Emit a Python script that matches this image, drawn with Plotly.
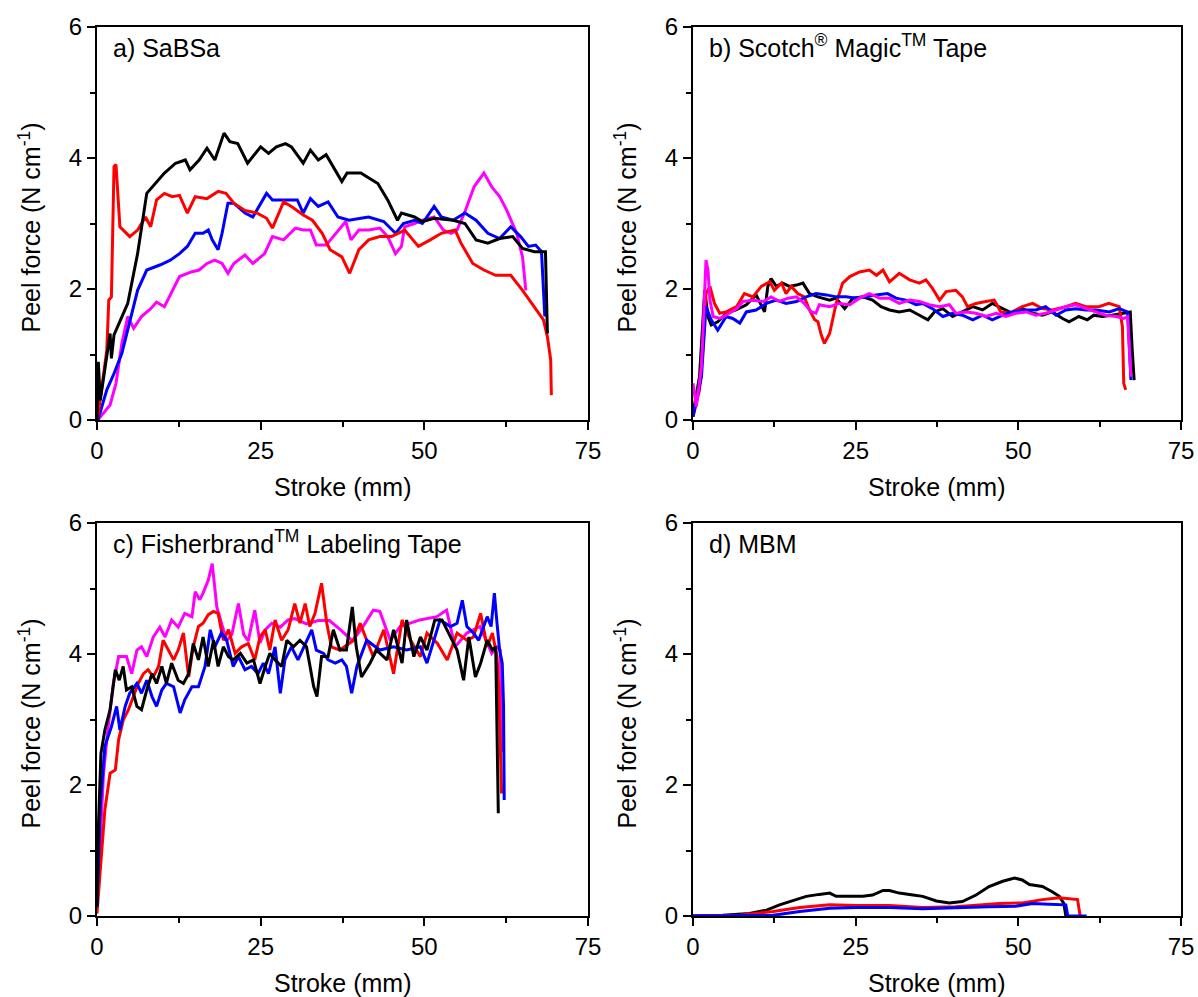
import plotly.graph_objects as go

# ---------------- Panel a) SaBSa ----------------
a_black_x = [0, 0.2, 0.5, 2.0, 2.2, 2.6, 4.7, 6.2, 7.6, 8.5, 10.3, 12.0, 13.5, 14.2, 15.6, 16.8, 18.0, 19.4, 20.3, 21.5, 23.0, 25.0, 26.2, 27.4, 28.8, 29.7, 31.5, 32.6, 33.8, 35.0, 37.4, 38.2, 40.3, 42.9, 44.4, 45.9, 46.5, 48.5, 49.7, 51.5, 54.4, 56.2, 57.9, 59.7, 61.5, 63.5, 65.0, 66.8, 68.5, 68.8]
a_black_y = [0.0, 0.89, 0.3, 1.32, 0.94, 1.3, 1.78, 2.54, 3.46, 3.56, 3.77, 3.92, 3.97, 3.82, 3.97, 4.15, 3.97, 4.38, 4.25, 4.22, 3.92, 4.17, 4.07, 4.17, 4.22, 4.17, 3.92, 4.12, 3.97, 4.05, 3.64, 3.77, 3.77, 3.61, 3.36, 3.05, 3.16, 3.1, 3.03, 3.08, 3.05, 3.0, 2.75, 2.7, 2.77, 2.8, 2.62, 2.57, 2.57, 1.32]

a_red_x = [0, 0.2, 1.5, 1.8, 2.2, 2.6, 2.9, 3.5, 5.0, 6.2, 7.4, 8.2, 9.1, 10.3, 11.5, 12.6, 13.8, 15.0, 16.8, 18.5, 19.7, 20.9, 22.6, 24.4, 25.9, 26.8, 28.5, 29.7, 31.5, 32.9, 34.4, 35.6, 37.4, 38.6, 40.0, 41.5, 43.2, 45.0, 47.0, 49.1, 50.9, 52.6, 54.7, 55.6, 57.4, 59.1, 60.9, 63.2, 65.0, 66.8, 68.2, 68.8, 69.3, 69.4]
a_red_y = [0.0, 0.1, 1.07, 1.83, 1.88, 3.87, 3.9, 2.95, 2.8, 2.9, 3.1, 2.95, 3.36, 3.46, 3.41, 3.43, 3.16, 3.41, 3.38, 3.49, 3.46, 3.31, 3.2, 3.16, 3.08, 2.93, 3.33, 3.26, 3.13, 3.05, 2.85, 2.6, 2.49, 2.24, 2.6, 2.75, 2.8, 2.8, 2.9, 2.65, 2.75, 2.85, 2.9, 2.7, 2.39, 2.29, 2.21, 2.21, 1.98, 1.73, 1.53, 1.27, 0.92, 0.38]

a_blue_x = [0, 0.2, 1.5, 2.6, 3.8, 5.0, 6.2, 7.6, 9.7, 11.2, 12.6, 13.8, 15.0, 16.2, 17.0, 17.6, 18.5, 19.1, 20.0, 20.9, 22.6, 23.8, 25.0, 25.9, 26.8, 28.5, 30.6, 31.5, 32.6, 33.8, 35.3, 36.8, 38.5, 40.3, 41.5, 43.8, 45.6, 46.8, 48.5, 49.7, 51.5, 52.6, 54.4, 56.2, 57.9, 59.7, 61.5, 63.2, 64.7, 65.9, 67.0, 67.9, 68.4]
a_blue_y = [0.0, 0.02, 0.46, 0.71, 1.02, 1.48, 1.98, 2.29, 2.37, 2.44, 2.54, 2.65, 2.85, 2.85, 2.9, 2.75, 2.6, 2.85, 3.31, 3.31, 3.16, 3.1, 3.31, 3.46, 3.36, 3.36, 3.36, 3.16, 3.38, 3.26, 3.33, 3.1, 3.05, 3.08, 3.1, 3.03, 2.85, 3.0, 3.05, 3.0, 3.26, 3.1, 3.05, 3.16, 3.05, 2.85, 2.77, 2.95, 2.8, 2.65, 2.67, 2.57, 1.58]

a_mag_x = [0, 0.2, 2.0, 2.9, 3.8, 4.7, 5.6, 6.8, 8.2, 9.1, 10.3, 11.5, 12.6, 14.4, 15.6, 16.8, 18.0, 19.1, 20.0, 20.9, 22.6, 23.8, 25.6, 26.8, 28.5, 30.3, 31.5, 32.6, 33.5, 35.0, 36.2, 38.0, 38.8, 40.0, 41.5, 43.2, 44.4, 45.6, 46.5, 47.0, 48.5, 49.7, 51.5, 52.9, 54.1, 55.0, 56.2, 57.6, 59.1, 60.3, 61.5, 62.6, 64.1, 65.0, 65.5]
a_mag_y = [0.0, 0.01, 0.23, 0.56, 1.17, 1.58, 1.4, 1.58, 1.7, 1.8, 1.73, 1.98, 2.19, 2.26, 2.29, 2.39, 2.44, 2.39, 2.24, 2.39, 2.52, 2.39, 2.54, 2.8, 2.75, 2.93, 2.9, 2.9, 2.67, 2.67, 2.82, 3.03, 2.75, 2.9, 2.9, 2.93, 2.8, 2.54, 2.65, 2.95, 3.0, 3.05, 3.1, 2.9, 2.85, 2.9, 3.18, 3.56, 3.77, 3.56, 3.41, 3.2, 2.85, 2.49, 1.98]

# ---------------- Panel b) Scotch Magic Tape ----------------
b_black_x = [0, 1.0, 1.8, 2.3, 2.8, 3.8, 5.1, 6.6, 8.2, 9.7, 11.0, 11.5, 12.0, 12.8, 13.8, 14.8, 15.9, 16.9, 17.9, 19.2, 21.0, 22.0, 23.3, 24.6, 26.1, 27.6, 28.9, 30.2, 31.7, 33.3, 34.8, 36.1, 37.1, 38.4, 39.9, 41.4, 43.0, 44.5, 46.0, 47.6, 49.1, 50.6, 52.2, 53.7, 55.2, 56.8, 57.8, 59.3, 60.6, 61.6, 62.9, 64.4, 66.0, 67.2, 67.5, 67.8]
b_black_y = [0.1, 0.66, 1.98, 1.58, 1.45, 1.5, 1.63, 1.68, 1.76, 1.91, 1.65, 2.04, 2.16, 2.04, 2.09, 2.04, 2.06, 2.09, 1.93, 1.88, 1.83, 1.86, 1.7, 1.86, 1.88, 1.83, 1.73, 1.68, 1.65, 1.68, 1.6, 1.53, 1.65, 1.7, 1.58, 1.65, 1.73, 1.68, 1.78, 1.7, 1.63, 1.7, 1.63, 1.6, 1.65, 1.55, 1.5, 1.58, 1.53, 1.6, 1.58, 1.6, 1.63, 1.65, 1.07, 0.61]

b_red_x = [0, 1.0, 1.5, 2.0, 2.6, 3.3, 4.1, 5.1, 6.7, 7.9, 9.2, 10.5, 11.8, 12.5, 13.6, 14.3, 15.1, 16.1, 17.1, 17.9, 18.7, 19.2, 19.7, 20.2, 21.0, 22.0, 23.0, 24.1, 25.6, 27.1, 28.2, 29.2, 30.2, 31.7, 33.3, 34.8, 35.8, 36.8, 37.9, 38.9, 40.4, 41.4, 42.2, 43.5, 45.0, 46.3, 47.3, 48.6, 50.6, 52.2, 53.7, 55.2, 57.3, 58.8, 60.4, 62.4, 63.9, 65.5, 66.0, 66.2, 66.5]
b_red_y = [0.05, 0.46, 1.07, 1.93, 2.04, 1.78, 1.63, 1.65, 1.73, 1.93, 1.88, 2.04, 2.11, 1.98, 2.09, 1.93, 2.04, 1.93, 1.88, 1.68, 1.53, 1.5, 1.3, 1.17, 1.32, 1.78, 2.09, 2.19, 2.26, 2.29, 2.21, 2.29, 2.11, 2.24, 2.14, 2.09, 2.14, 2.01, 1.83, 1.96, 1.98, 1.88, 1.73, 1.78, 1.81, 1.83, 1.65, 1.63, 1.73, 1.78, 1.7, 1.68, 1.73, 1.78, 1.73, 1.73, 1.78, 1.73, 1.42, 0.56, 0.46]

b_blue_x = [0, 1.3, 2.0, 2.8, 3.8, 5.1, 6.1, 7.2, 8.2, 9.7, 11.3, 12.8, 14.3, 15.9, 17.4, 18.9, 20.5, 22.0, 23.5, 25.1, 26.6, 28.1, 29.9, 31.2, 32.7, 34.3, 35.3, 36.8, 38.4, 39.9, 41.4, 43.0, 44.5, 46.0, 47.6, 49.1, 50.6, 52.7, 54.2, 55.8, 57.3, 58.8, 60.4, 61.9, 64.0, 65.5, 66.8, 67.3]
b_blue_y = [0.05, 0.66, 1.73, 1.53, 1.37, 1.58, 1.55, 1.48, 1.65, 1.68, 1.78, 1.83, 1.78, 1.81, 1.88, 1.93, 1.91, 1.88, 1.88, 1.86, 1.88, 1.91, 1.93, 1.86, 1.83, 1.76, 1.78, 1.7, 1.58, 1.63, 1.6, 1.53, 1.6, 1.53, 1.6, 1.65, 1.68, 1.68, 1.73, 1.6, 1.68, 1.7, 1.68, 1.68, 1.65, 1.7, 1.65, 0.61]

b_mag_x = [0, 0.5, 1.3, 2.0, 2.3, 2.6, 3.1, 4.1, 5.1, 6.7, 7.7, 9.2, 10.8, 12.0, 13.3, 14.6, 15.9, 17.1, 18.2, 18.9, 19.4, 21.0, 22.5, 24.1, 25.6, 27.1, 28.7, 30.2, 31.7, 33.3, 34.8, 36.3, 37.9, 39.4, 40.4, 42.0, 43.5, 45.0, 46.6, 48.1, 49.6, 51.2, 52.7, 54.2, 55.8, 57.3, 58.8, 60.4, 61.9, 63.4, 65.0, 66.2, 66.8, 67.3]
b_mag_y = [0.56, 0.2, 0.81, 2.44, 2.29, 1.83, 1.58, 1.55, 1.6, 1.7, 1.81, 1.83, 1.81, 1.88, 1.81, 1.86, 1.88, 1.78, 1.65, 1.63, 1.76, 1.73, 1.78, 1.76, 1.86, 1.93, 1.86, 1.86, 1.78, 1.83, 1.81, 1.76, 1.73, 1.76, 1.63, 1.65, 1.63, 1.58, 1.63, 1.58, 1.63, 1.65, 1.6, 1.63, 1.68, 1.73, 1.76, 1.7, 1.65, 1.6, 1.58, 1.55, 1.58, 0.66]

# ---------------- Panel c) Fisherbrand Labeling Tape ----------------
c_black_x = [0, 0.2, 0.6, 1.2, 2.0, 2.8, 3.4, 4.0, 4.5, 5.3, 6.1, 6.8, 7.6, 8.4, 9.1, 9.9, 10.6, 11.4, 12.4, 13.2, 14.0, 14.7, 15.5, 16.2, 17.0, 17.8, 18.5, 19.3, 20.1, 20.8, 21.9, 22.9, 23.9, 24.9, 25.7, 26.4, 27.2, 28.2, 29.0, 30.0, 31.0, 32.0, 33.1, 33.6, 34.3, 35.3, 36.1, 37.1, 38.1, 39.0, 39.6, 40.4, 41.7, 42.7, 44.3, 45.3, 46.6, 47.3, 48.4, 49.4, 50.4, 51.6, 52.7, 54.0, 55.0, 56.0, 56.8, 57.8, 58.6, 59.6, 60.4, 60.9, 61.1, 61.3]
c_black_y = [0.14, 1.31, 2.48, 2.84, 3.15, 3.76, 3.6, 3.81, 3.45, 3.5, 3.2, 3.15, 3.45, 3.7, 3.55, 3.81, 3.55, 3.86, 3.6, 3.55, 3.7, 4.16, 3.91, 4.26, 3.81, 4.21, 3.81, 4.11, 3.96, 3.91, 4.01, 3.86, 3.91, 3.55, 3.81, 4.01, 3.91, 3.81, 4.21, 4.11, 4.21, 4.11, 3.5, 3.35, 3.96, 3.96, 4.37, 4.06, 4.06, 4.72, 4.11, 3.65, 3.86, 4.06, 3.91, 4.37, 3.86, 4.52, 3.96, 4.26, 4.06, 4.52, 4.52, 4.26, 4.06, 3.6, 4.26, 3.65, 3.86, 4.21, 4.06, 4.11, 3.09, 1.57]

c_red_x = [0, 0.5, 1.2, 2.0, 2.8, 3.3, 4.0, 4.8, 5.5, 6.3, 7.1, 7.8, 8.6, 9.4, 10.1, 10.9, 11.7, 12.4, 13.2, 14.0, 14.7, 15.5, 16.2, 17.0, 17.8, 18.5, 19.3, 20.1, 21.1, 22.1, 23.1, 24.1, 24.9, 25.7, 26.4, 27.2, 28.2, 29.2, 30.2, 31.0, 31.8, 32.5, 33.3, 34.3, 35.1, 35.8, 37.1, 39.2, 40.2, 41.2, 42.2, 43.8, 45.3, 46.6, 47.9, 49.4, 50.4, 52.0, 53.5, 55.0, 56.5, 57.5, 58.6, 59.6, 60.4, 61.1, 61.4, 61.6, 61.8]
c_red_y = [0.04, 0.65, 1.62, 2.18, 2.23, 2.69, 2.99, 3.15, 3.35, 3.55, 3.7, 3.76, 3.65, 3.81, 4.21, 4.06, 3.91, 4.06, 4.32, 3.65, 4.11, 4.42, 4.47, 4.6, 4.65, 4.62, 4.21, 4.37, 4.01, 4.11, 4.16, 3.91, 4.26, 4.37, 4.06, 4.52, 4.21, 4.37, 4.77, 4.47, 4.77, 4.42, 4.62, 5.08, 4.47, 4.11, 4.06, 4.21, 4.47, 4.21, 3.96, 4.37, 3.7, 4.52, 4.21, 3.96, 4.32, 4.16, 3.91, 4.32, 4.21, 4.26, 4.62, 4.11, 4.32, 3.96, 3.4, 2.59, 1.87]

c_blue_x = [0, 0.5, 1.2, 2.2, 3.0, 3.5, 4.3, 5.0, 6.1, 6.8, 7.6, 8.4, 9.1, 9.9, 10.6, 11.7, 12.7, 13.4, 14.5, 15.5, 16.5, 17.3, 18.0, 19.0, 19.8, 20.8, 21.6, 22.6, 23.6, 24.6, 25.4, 26.2, 27.2, 28.0, 28.7, 29.7, 30.7, 31.8, 32.8, 33.5, 34.6, 35.3, 36.4, 37.4, 38.1, 38.9, 39.7, 41.2, 43.2, 45.3, 47.3, 49.4, 50.4, 52.4, 54.0, 55.0, 55.8, 56.5, 57.5, 58.3, 59.6, 60.2, 60.7, 61.1, 61.5, 61.9, 62.1, 62.2]
c_blue_y = [0.14, 1.67, 2.59, 2.89, 3.2, 2.84, 3.2, 3.4, 3.55, 3.4, 3.6, 3.35, 3.2, 3.45, 3.55, 3.5, 3.1, 3.3, 3.5, 3.5, 3.81, 4.37, 4.11, 4.32, 4.21, 3.81, 3.96, 3.76, 3.81, 3.7, 3.86, 3.7, 4.11, 3.4, 3.91, 4.11, 3.91, 4.16, 4.37, 4.06, 4.01, 3.91, 3.86, 3.91, 3.81, 3.4, 3.81, 4.21, 4.06, 4.11, 4.06, 4.11, 3.86, 4.52, 4.42, 4.47, 4.82, 4.42, 4.32, 4.21, 4.57, 4.42, 4.93, 4.47, 4.06, 3.86, 3.2, 1.77]

c_mag_x = [0, 0.5, 1.0, 1.7, 2.5, 3.3, 4.5, 5.3, 6.1, 6.8, 7.6, 8.6, 9.6, 10.4, 11.4, 12.4, 13.4, 14.5, 15.0, 15.7, 16.2, 17.0, 17.6, 18.3, 19.0, 19.8, 20.6, 21.6, 22.4, 23.1, 24.1, 24.9, 25.7, 26.7, 28.0, 29.2, 30.2, 32.0, 33.8, 35.5, 37.3, 39.0, 40.5, 42.2, 43.2, 44.8, 46.3, 49.3, 51.9, 53.4, 54.7, 56.5, 58.5, 60.3, 61.1, 61.6, 61.9]
c_mag_y = [0.14, 1.16, 2.18, 2.89, 3.55, 3.96, 3.96, 3.7, 4.06, 4.11, 3.96, 4.26, 4.41, 4.26, 4.52, 4.41, 4.62, 4.57, 4.95, 4.83, 4.93, 5.13, 5.38, 4.72, 4.47, 4.2, 4.3, 4.77, 4.3, 4.2, 4.67, 4.17, 4.37, 4.47, 4.41, 4.52, 4.54, 4.46, 4.51, 4.51, 4.36, 4.2, 4.4, 4.67, 4.65, 4.21, 4.42, 4.52, 4.57, 4.67, 4.11, 4.32, 4.42, 4.01, 4.11, 4.06, 2.5]

# ---------------- Panel d) MBM ----------------
d_black_x = [0, 4.6, 8.7, 11.3, 13.3, 15.4, 17.4, 19.4, 21.0, 22.0, 24.1, 26.1, 27.6, 29.2, 30.2, 31.7, 33.8, 35.3, 37.4, 39.4, 41.4, 43.5, 45.5, 47.6, 49.4, 50.6, 51.7, 53.7, 55.2, 56.3, 57.0, 57.3]
d_black_y = [0.0, 0.01, 0.04, 0.09, 0.17, 0.24, 0.3, 0.33, 0.35, 0.3, 0.3, 0.3, 0.32, 0.39, 0.39, 0.35, 0.32, 0.3, 0.23, 0.2, 0.22, 0.32, 0.45, 0.53, 0.58, 0.55, 0.48, 0.45, 0.37, 0.3, 0.19, 0.0]

d_red_x = [0, 7.2, 12.3, 16.4, 21.0, 25.1, 30.2, 35.3, 40.4, 47.1, 50.6, 53.7, 56.3, 59.1, 59.5]
d_red_y = [0.0, 0.01, 0.07, 0.13, 0.17, 0.16, 0.16, 0.13, 0.14, 0.19, 0.2, 0.25, 0.28, 0.25, 0.0]

d_blue_x = [0, 12.3, 16.4, 21.0, 25.1, 30.2, 35.3, 40.4, 45.5, 49.6, 52.2, 54.7, 57.3, 57.6, 60.5]
d_blue_y = [0.0, 0.01, 0.07, 0.12, 0.13, 0.13, 0.11, 0.12, 0.14, 0.15, 0.19, 0.18, 0.17, 0.0, 0.0]

x_ticks = [0, 25, 50, 75]
y_ticks = [0, 2, 4, 6]
y_title = "Peel force (N cm<sup>-1</sup>)"
x_title = "Stroke (mm)"
panel_labels = ["a) SaBSa",
                "b) Scotch<sup>®</sup> Magic<sup>TM</sup> Tape",
                "c) Fisherbrand<sup>TM</sup> Labeling Tape",
                "d) MBM"]

BLACK, RED, BLUE, MAG = "#000000", "#FF0000", "#0000FF", "#FF00FF"
FONT = "Liberation Sans, Arial, sans-serif"

panels = [
    [(a_mag_x, a_mag_y, MAG), (a_blue_x, a_blue_y, BLUE), (a_red_x, a_red_y, RED), (a_black_x, a_black_y, BLACK)],
    [(b_black_x, b_black_y, BLACK), (b_red_x, b_red_y, RED), (b_blue_x, b_blue_y, BLUE), (b_mag_x, b_mag_y, MAG)],
    [(c_mag_x, c_mag_y, MAG), (c_red_x, c_red_y, RED), (c_blue_x, c_blue_y, BLUE), (c_black_x, c_black_y, BLACK)],
    [(d_black_x, d_black_y, BLACK), (d_red_x, d_red_y, RED), (d_blue_x, d_blue_y, BLUE)],
]

W, H = 1198, 997
xpix = [(97, 588), (693, 1181)]
ypix = [(27, 420), (523, 916)]

fig = go.Figure()
layout = dict(width=W, height=H, margin=dict(l=0, r=0, t=0, b=0, autoexpand=False),
              paper_bgcolor="white", plot_bgcolor="white", showlegend=False,
              font=dict(family=FONT, color="black", size=24))
annotations = []
for i, traces in enumerate(panels):
    row, col = divmod(i, 2)
    ax = "" if i == 0 else str(i + 1)
    x0, x1 = xpix[col]
    y0, y1 = ypix[row]
    for (xs, ys, color) in traces:
        fig.add_trace(go.Scatter(x=xs, y=ys, mode="lines",
                                 line=dict(color=color, width=3),
                                 xaxis="x" + ax, yaxis="y" + ax))
    common = dict(showline=True, linecolor="black", linewidth=2, mirror=True,
                  ticks="outside", ticklen=8, tickwidth=1.5, tickcolor="black",
                  showgrid=False, zeroline=False, automargin=False,
                  tickfont=dict(size=24, family=FONT))
    layout["xaxis" + ax] = dict(common, domain=[x0 / W, x1 / W], range=[0, 75],
                                tickvals=x_ticks, anchor="y" + ax,
                                minor=dict(dtick=12.5, ticks="outside", ticklen=5, tickwidth=1.5, tickcolor="black"))
    layout["yaxis" + ax] = dict(common, domain=[1 - y1 / H, 1 - y0 / H], range=[0, 6],
                                tickvals=y_ticks, anchor="x" + ax,
                                minor=dict(dtick=1, ticks="outside", ticklen=5, tickwidth=1.5, tickcolor="black"))
    # panel label
    annotations.append(dict(text=panel_labels[i], xref="x" + ax + " domain", yref="y" + ax + " domain",
                            x=0.028, y=0.905, xanchor="left", yanchor="bottom", showarrow=False,
                            font=dict(size=25, family=FONT)))
    # x axis title
    annotations.append(dict(text=x_title, xref="paper", yref="paper",
                            x=(x0 + x1) / 2 / W, y=1 - (y1 + 67) / H, xanchor="center", yanchor="middle",
                            showarrow=False, font=dict(size=25, family=FONT)))
    # y axis title
    annotations.append(dict(text=y_title, xref="paper", yref="paper", textangle=-90,
                            x=(x0 - 68) / W, y=1 - ((y0 + y1) / 2 + 4) / H, xanchor="center", yanchor="middle",
                            showarrow=False, font=dict(size=25, family=FONT)))
layout["annotations"] = annotations
fig.update_layout(**layout)
fig.write_html("out.html", config={"displayModeBar": False},
               post_script="document.body.style.margin='0px';document.body.style.overflow='hidden';")
